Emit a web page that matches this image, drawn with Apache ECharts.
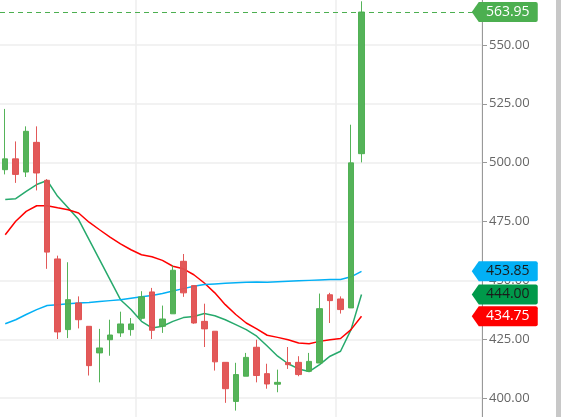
<!DOCTYPE html>
<html>
<head>
<meta charset="utf-8">
<script src="https://cdn.jsdelivr.net/npm/echarts@6/dist/echarts.min.js"></script>
<style>
html,body{margin:0;padding:0;background:#fff;overflow:hidden;width:561px;height:417px}
/* el area visible empieza un poco por debajo del 575 */
#chart{position:absolute;left:0;top:-14px;width:561px;height:471px}
#bar{position:absolute;right:0;top:0;width:5px;height:417px;background:#c8c8c8}
</style>
</head>
<body>
<div id="chart"></div>
<div id="bar"></div>
<script>
// datos de las velas (35 sesiones visibles)
const opens  = [497, 501.6, 496, 508.6, 492.5, 459.1, 429.1, 440.4, 430.5, 419.2, 424.8, 427.7, 429.1, 433.9, 445.1, 430.5, 435.8, 458.1, 447.8, 432.6, 428.4, 415.2, 398.6, 409.3, 421.6, 410.4, 405.9, 415.1, 415.2, 411.4, 414.9, 443.9, 442.1, 438.3, 503.8];
const closes = [501.6, 495, 513.3, 495.6, 462, 428.1, 441.8, 433.3, 413.8, 421.3, 426.8, 431.5, 431.5, 443, 428.8, 433.6, 454.3, 444.7, 431.9, 429.4, 415.4, 404, 410, 417.3, 409.6, 406, 406.7, 414.2, 410, 415.6, 438, 441.4, 437.6, 499.9, 563.95];
const lows   = [495, 491.4, 493.9, 488.2, 454.9, 425.1, 425.5, 429.6, 409.6, 406.7, 418, 426, 426.5, 433.3, 425.1, 427.7, 435.8, 443, 431.6, 421.7, 411.7, 398, 394.7, 409.3, 406.7, 404, 402.5, 412.4, 409.3, 411.4, 414.9, 431.9, 435.9, 438.3, 500.1];
const highs  = [522.8, 509, 515.4, 515.4, 493, 460.5, 457.7, 443.2, 430.5, 429.4, 433.3, 436.7, 434, 445.4, 446.8, 439.3, 456.4, 461.2, 447.8, 440.1, 428.4, 415.2, 415, 419.2, 424.8, 414.6, 412.1, 421.7, 417.8, 419.2, 444.4, 444.7, 443.2, 516.1, 568.5];

// medias moviles
const maFast = [484.3, 484.7, 487.8, 490.7, 492.4, 485.7, 480.8, 475.8, 467.3, 458.8, 450.3, 441.8, 437.6, 432.6, 429.8, 430.5, 432.6, 434.2, 434.7, 435.9, 435, 433.3, 431.2, 429.1, 426.3, 422.1, 417.8, 414.6, 412.4, 411.3, 414.2, 417.8, 419.9, 429.1, 444.0];
const maMid  = [469.4, 475.1, 479.3, 481.7, 481.7, 480.8, 480, 478.6, 474.7, 471.5, 468.4, 465.5, 463, 460.9, 460, 458.5, 456, 454.9, 452.4, 448.9, 444.7, 439.7, 435.5, 431.9, 429.4, 426.7, 425.8, 424.8, 423.4, 423.1, 424.1, 424.8, 425.3, 429.1, 434.75];
const maSlow = [431.6, 433.3, 435.5, 437.6, 439.3, 439.7, 440.1, 440.4, 440.6, 441, 441.4, 441.8, 442.4, 443, 443.6, 444.4, 445.5, 446.5, 447.5, 448.2, 448.5, 448.8, 449, 449.2, 449.3, 449.2, 449.4, 449.6, 449.8, 450, 450.2, 450.4, 450.4, 451.5, 453.85];

// 46 huecos en el eje x (los ultimos vacios)
const categories = Array.from({length: 46}, (_, i) => String(i));
const yTicks = [400, 425, 450, 475, 500, 525, 550];
const vLines = [13, 32]; // separadores verticales

const lastClose = closes[closes.length - 1];
const tagPath = 'path://M0,10 L7,0 L64,0 Q66,0 66,2 L66,18 Q66,20 64,20 L7,20 Z';

function tag(value, bg, textColor) {
    return {
        coord: ['45', value],
        symbol: tagPath,
        symbolSize: [66, 20],
        symbolOffset: [28, 0],
        itemStyle: {color: bg},
        label: {
            show: true, color: textColor, fontSize: 14, offset: [3, 0],
            fontFamily: 'Open Sans', formatter: value.toFixed(2)
        }
    };
}

const chart = echarts.init(document.getElementById('chart'));

const option = {
    animation: false,
    backgroundColor: '#fff',
    grid: {left: 0, right: 79, top: 0, bottom: 0},
    xAxis: {
        type: 'category', data: categories, boundaryGap: true,
        axisLine: {show: false}, axisTick: {show: false}, axisLabel: {show: false},
        splitLine: {show: true, interval: (i) => vLines.includes(i), lineStyle: {color: '#eeeeee', width: 1.5}}
    },
    yAxis: {
        type: 'value', position: 'right', min: 375, max: 575, interval: 25,
        axisLine: {show: true, lineStyle: {color: '#999'}},
        axisTick: {show: true, length: 5, lineStyle: {color: '#999'}},
        axisLabel: {color: '#666', fontSize: 13, fontFamily: 'Open Sans', margin: 7,
            formatter: v => yTicks.includes(v) ? v.toFixed(2) : ''},
        splitLine: {lineStyle: {color: '#eeeeee', width: 1.5}}
    },
    series: [
        {
            type: 'candlestick',
            barWidth: 6,
            data: opens.map((o, i) => [o, closes[i], lows[i], highs[i]]),
            itemStyle: {color: '#4caf50', color0: '#e05050', borderColor: '#4caf50', borderColor0: '#e05050', opacity: 0.95},
            markLine: {
                silent: true, symbol: ['none', 'none'],
                label: {show: false},
                data: [{yAxis: lastClose, lineStyle: {color: '#4caf50', type: [5, 4], width: 1}}]
            },
            markPoint: {
                silent: true,
                data: [
                    tag(lastClose, '#4caf50', '#fff'),
                    tag(maSlow[maSlow.length - 1], '#03b0f5', '#1a1a1a'),
                    tag(maFast[maFast.length - 1], '#00994a', '#1a1a1a'),
                    tag(maMid[maMid.length - 1], '#ff0000', '#fff')
                ]
            },
            z: 3
        },
        {type: 'line', data: maFast, showSymbol: false, lineStyle: {color: '#26a96c', width: 1.5}, z: 2},
        {type: 'line', data: maMid, showSymbol: false, lineStyle: {color: '#ff0000', width: 1.5}, z: 2},
        {type: 'line', data: maSlow, showSymbol: false, lineStyle: {color: '#03b0f5', width: 1.5}, z: 2}
    ]
};

chart.setOption(option);
</script>
</body>
</html>
